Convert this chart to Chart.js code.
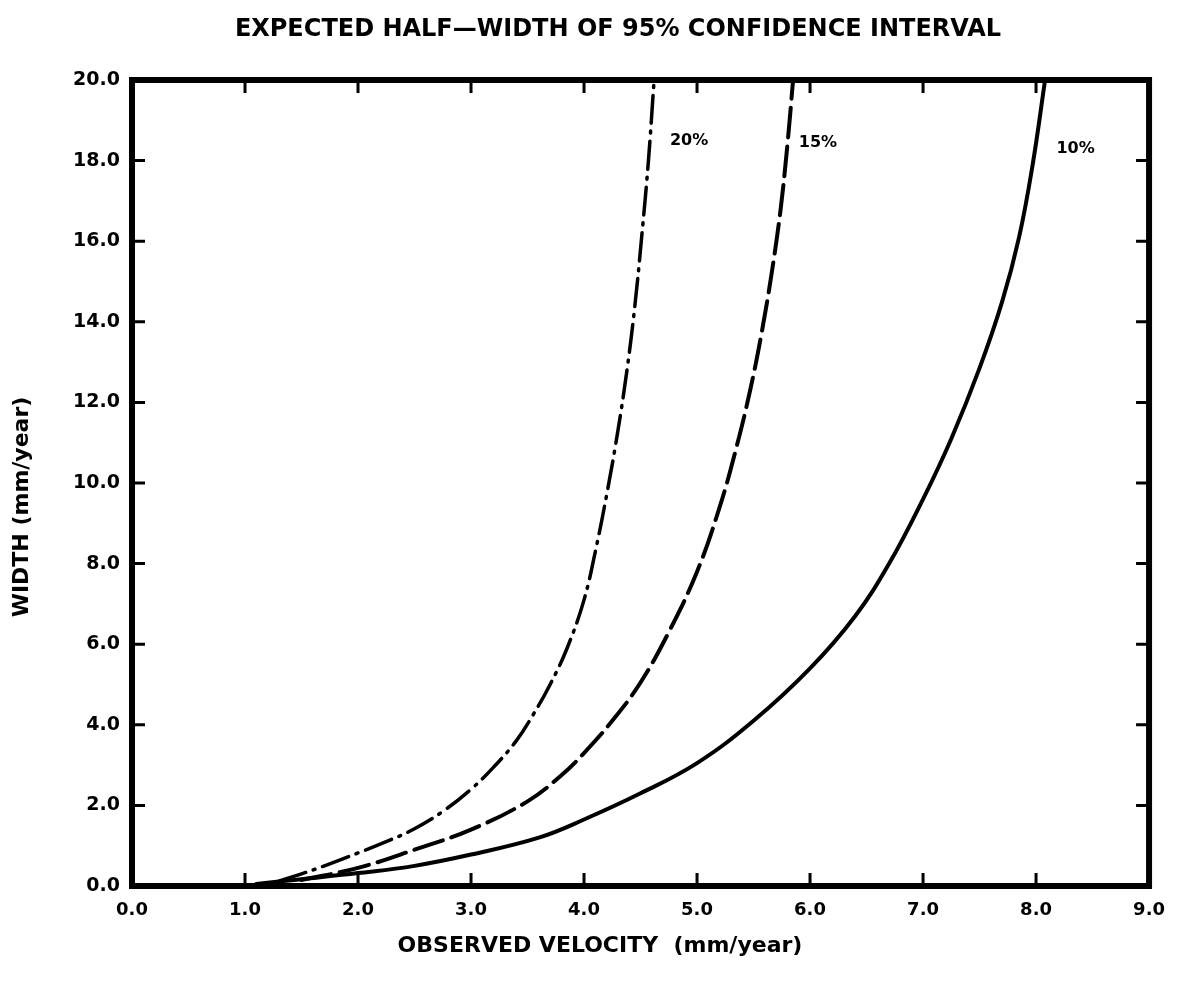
<!DOCTYPE html>
<html>
<head>
<meta charset="utf-8">
<script src="https://cdn.jsdelivr.net/npm/chart.js@4"></script>
<style>
  html, body { margin: 0; padding: 0; background: #fff; }
  #wrap { width: 1179px; height: 984px; }
</style>
</head>
<body>
<div id="wrap"><canvas id="chart" width="1179" height="984"></canvas></div>
<script>
// values
const vel10 = [1.1, 1.5, 2.0, 2.5, 3.0, 3.6, 4.0, 4.5, 5.0, 5.5, 6.0, 6.4, 6.7, 7.0, 7.25, 7.5, 7.7, 7.85, 7.97, 8.08];
const width10 = [0.05, 0.17, 0.32, 0.5, 0.78, 1.2, 1.65, 2.3, 3.05, 4.1, 5.4, 6.7, 8.0, 9.6, 11.1, 12.85, 14.5, 16.1, 17.9, 20.0];

const vel15 = [1.5, 2.0, 2.5, 3.0, 3.5, 3.8, 4.0, 4.25, 4.5, 4.75, 5.0, 5.2, 5.35, 5.47, 5.57, 5.66, 5.74, 5.8, 5.85];
const width15 = [0.15, 0.45, 0.9, 1.4, 2.1, 2.75, 3.3, 4.1, 5.05, 6.3, 7.8, 9.4, 10.9, 12.3, 13.7, 15.2, 16.8, 18.4, 20.0];

const vel20 = [1.3, 1.5, 1.75, 2.0, 2.25, 2.5, 2.75, 3.0, 3.2, 3.4, 3.55, 3.7, 3.85, 4.0, 4.1, 4.2, 4.3, 4.38, 4.45, 4.51, 4.57, 4.62];
const width20 = [0.12, 0.3, 0.55, 0.82, 1.1, 1.42, 1.85, 2.4, 2.95, 3.6, 4.25, 5.0, 5.9, 7.1, 8.3, 9.7, 11.3, 12.8, 14.4, 16.1, 18.0, 20.0];

const xTicks = [0, 1, 2, 3, 4, 5, 6, 7, 8, 9];
const yTicks = [0, 2, 4, 6, 8, 10, 12, 14, 16, 18, 20];

// curve labels: text and where they sit in data units
const curveLabels = ['20%', '15%', '10%'];
const curveLabelX = [4.93, 6.07, 8.35];
const curveLabelY = [18.5, 18.45, 18.3];

const chartTitle = 'EXPECTED HALF\u2014WIDTH OF 95% CONFIDENCE INTERVAL';
const xTitle = 'OBSERVED VELOCITY  (mm/year)';
const yTitle = 'WIDTH (mm/year)';

const FONT = '"DejaVu Sans", "Liberation Sans", sans-serif';

function pts(xs, ys) {
    return xs.map((x, i) => ({ x: x, y: ys[i] }));
}

// frame, inward ticks, titles and curve labels
const framePlugin = {
    id: 'frame',
    afterDraw(chart) {
        const ctx = chart.ctx;
        const a = chart.chartArea;
        const xs = chart.scales.x;
        const ys = chart.scales.y;
        ctx.save();
        ctx.strokeStyle = '#000';
        ctx.lineCap = 'butt';

        // ticks pointing into the plot on all 4 sides
        ctx.lineWidth = 3;
        const tl = 13;
        xTicks.slice(1, -1).forEach(v => {
            const px = xs.getPixelForValue(v);
            ctx.beginPath();
            ctx.moveTo(px, a.bottom); ctx.lineTo(px, a.bottom - tl);
            ctx.moveTo(px, a.top); ctx.lineTo(px, a.top + tl);
            ctx.stroke();
        });
        yTicks.slice(1, -1).forEach(v => {
            const py = ys.getPixelForValue(v);
            ctx.beginPath();
            ctx.moveTo(a.left, py); ctx.lineTo(a.left + tl, py);
            ctx.moveTo(a.right, py); ctx.lineTo(a.right - tl, py);
            ctx.stroke();
        });

        ctx.lineWidth = 6;
        ctx.strokeRect(a.left, a.top, a.right - a.left, a.bottom - a.top);

        ctx.fillStyle = '#000';
        ctx.textBaseline = 'middle';
        ctx.textAlign = 'center';

        ctx.font = 'bold 24px ' + FONT;
        ctx.fillText(chartTitle, 618, 30);

        ctx.font = 'bold 22px ' + FONT;
        ctx.fillText(xTitle, 600, 946);

        ctx.save();
        ctx.translate(22, 507);
        ctx.rotate(-Math.PI / 2);
        ctx.font = 'bold 22px ' + FONT;
        ctx.fillText(yTitle, 0, 0);
        ctx.restore();

        ctx.font = 'bold 16px ' + FONT;
        curveLabels.forEach((t, i) => {
            ctx.fillText(t, xs.getPixelForValue(curveLabelX[i]), ys.getPixelForValue(curveLabelY[i]));
        });
        ctx.restore();
    }
};

const lineBase = {
    showLine: true,
    fill: false,
    borderColor: '#000',
    backgroundColor: '#000',
    borderWidth: 4,
    pointRadius: 0,
    tension: 0.4,
    borderCapStyle: 'round'
};

const data = {
    datasets: [
        Object.assign({}, lineBase, { label: '10%', data: pts(vel10, width10) }),
        Object.assign({}, lineBase, { label: '15%', data: pts(vel15, width15), borderDash: [30, 9] }),
        Object.assign({}, lineBase, { label: '20%', data: pts(vel20, width20), borderDash: [28, 8, 2, 8], borderWidth: 3.5 })
    ]
};

const config = {
    type: 'scatter',
    data: data,
    options: {
        responsive: false,
        animation: false,
        layout: {
            padding: { top: 80, right: 18, left: 0, bottom: 0 }
        },
        scales: {
            x: {
                type: 'linear',
                min: 0,
                max: 9,
                afterBuildTicks: s => { s.ticks = xTicks.map(v => ({ value: v })); },
                afterFit: s => { s.height = 98; },
                grid: { display: false, drawTicks: false },
                border: { display: false },
                ticks: {
                    padding: 14,
                    color: '#000',
                    font: { family: FONT, size: 18, weight: 'bold' },
                    callback: v => v.toFixed(1)
                }
            },
            y: {
                type: 'linear',
                min: 0,
                max: 20,
                afterBuildTicks: s => { s.ticks = yTicks.map(v => ({ value: v })); },
                afterFit: s => { s.width = 132; },
                grid: { display: false, drawTicks: false },
                border: { display: false },
                ticks: {
                    padding: 12,
                    color: '#000',
                    font: { family: FONT, size: 19, weight: 'bold' },
                    callback: v => v.toFixed(1)
                }
            }
        },
        plugins: {
            legend: { display: false },
            tooltip: { enabled: false },
            title: { display: false }
        }
    },
    plugins: [framePlugin]
};

const ctx = document.getElementById('chart').getContext('2d');
const chart = new Chart(ctx, config);
</script>
</body>
</html>
